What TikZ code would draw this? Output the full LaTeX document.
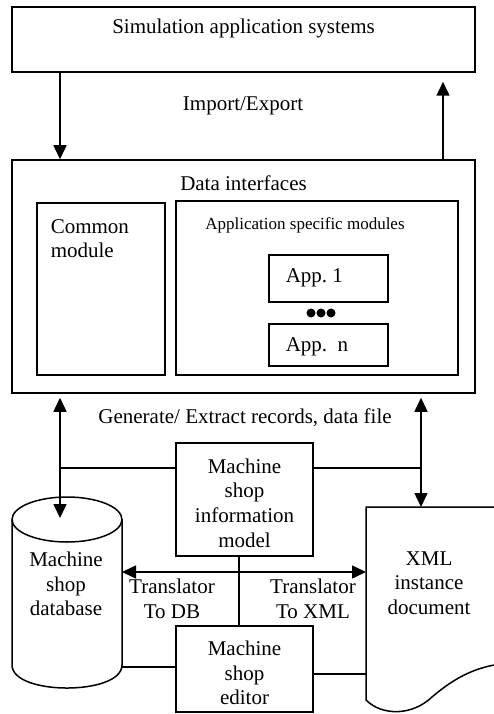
\documentclass[tikz,border=0pt]{standalone}
\usepackage{fontspec}
\setmainfont{Liberation Serif}
\usetikzlibrary{arrows.meta}
\begin{document}
\begin{tikzpicture}[x=1pt,y=-1pt,line width=1.5pt,
  box/.style={draw, rectangle, inner sep=0pt},
  ghost/.style={rectangle, inner sep=0pt, outer sep=0pt},
  txt/.style={inner sep=0pt, align=center, font=\fontsize{21}{24.7}\selectfont},
  arr/.style={-{Triangle[length=14pt,width=13pt]}},
  darr/.style={{Triangle[length=14pt,width=13pt]}-{Triangle[length=14pt,width=13pt]}},
]
\useasboundingbox (0,0) rectangle (494,714);
\clip (0,0) rectangle (494,714);

% coordinates used for connector positions
\coordinate (xl) at (60,0);
\coordinate (xr) at (443,0);
\coordinate (xm) at (421,0);
\coordinate (xv) at (239,0);
\coordinate (yh) at (0,468);
\coordinate (yt) at (0,572);
\coordinate (y1) at (0,667);
\coordinate (y2) at (0,674);
\coordinate (dbc) at (67,518);

% top
\node[box, minimum width=463pt, minimum height=65pt] (sim) at (243.5,39.5) {};
\node[txt] (simt) at (243.5,28) {Simulation application systems};
\node[txt] (imp) at (243,106) {Import/Export};

% data interfaces
\node[box, minimum width=463pt, minimum height=233pt] (di) at (243.5,276.5) {};
\node[txt] (dit) at (243.5,183) {Data interfaces};
\node[box, minimum width=128pt, minimum height=172pt] (com) at (101,289) {};
\node[txt, align=left, anchor=west] (comt) at (50,238.5) {Common\\module};
\node[box, minimum width=282pt, minimum height=174pt] (asm) at (317,288) {};
\node[txt, font=\fontsize{17}{20}\selectfont] (asmt) at (305,225) {Application specific modules};
\node[box, minimum width=119pt, minimum height=47pt] (app1) at (328.5,278.5) {};
\node[txt, anchor=west] (app1t) at (285,278) {App.\ 1};
\node[box, minimum width=119pt, minimum height=42pt] (appn) at (328.5,345) {};
\node[txt, anchor=west] (appnt) at (285,347) {App.\ \ n};
\fill (311,313) circle[radius=4.5pt];
\fill (321,313) circle[radius=4.5pt];
\fill (331,313) circle[radius=4.5pt];

\draw[arr] (sim.south -| xl) -- (di.north -| xl);
\draw[arr, shorten >=9pt] (di.north -| xr) -- (sim.south -| xr);

% bottom
\node[txt] (gen) at (245,418) {Generate/ Extract records, data file};
\node[box, minimum width=137pt, minimum height=113pt] (info) at (244.5,499.5) {};
\node[txt] (infot) at (244.5,503) {Machine\\shop\\information\\model};
\node[box, minimum width=137pt, minimum height=86pt] (ed) at (244.5,669) {};
\node[txt] (edt) at (244.5,673) {Machine\\shop\\editor};

% database cylinder
\node[ghost, minimum width=110pt, minimum height=191pt] (db) at (67,592.5) {};
\draw (12,519.5) -- (12,665) .. controls (12,695.7) and (122,695.7) .. (122,665) -- (122,519.5);
\draw (67,519.5) ellipse [x radius=55, y radius=22.5];
\node[txt] (dbt) at (66,584) {Machine\\shop\\database};

% XML document
\node[ghost, minimum width=128pt, minimum height=193pt] (doc) at (430,603.5) {};
\draw (500,507) -- (366,507) -- (366,700) .. controls (382,716) and (412,716) .. (432,697) .. controls (452,680) and (472,668) .. (500,664);
\node[txt] (doct) at (429,583) {XML\\instance\\document};

\node[txt] (tdb) at (172,598.5) {Translator\\To DB};
\node[txt] (txml) at (313,599) {Translator\\To XML};

\draw[darr, shorten <=4pt] (di.south -| xl) -- (xl |- dbc);
\draw[darr, shorten <=4pt] (di.south -| xm) -- (doc.north -| xm);
\draw (xl |- yh) -- (info.west |- yh);
\draw (info.east |- yh) -- (xm |- yh);
\draw[darr] (db.east |- yt) -- (doc.west |- yt);
\draw (info.south -| xv) -- (ed.north -| xv);
\draw (db.east |- y1) -- (ed.west |- y1);
\draw (ed.east |- y2) -- (doc.west |- y2);
\end{tikzpicture}
\end{document}
